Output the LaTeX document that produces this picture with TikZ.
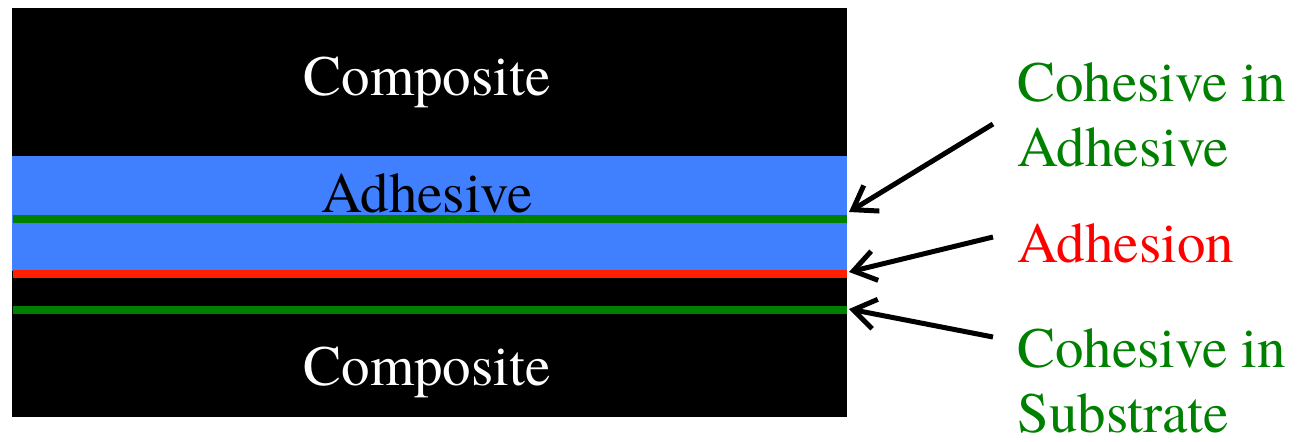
\documentclass[tikz,border=0pt]{standalone}
\usepackage{fontspec}
\setmainfont{TeX Gyre Termes}
\usetikzlibrary{arrows.meta}
\definecolor{adhblue}{RGB}{64,128,255}
\definecolor{lgreen}{RGB}{0,128,0}
\definecolor{lred}{RGB}{255,32,0}
\definecolor{tgreen}{RGB}{0,128,0}
\definecolor{tred}{RGB}{255,0,0}
\tikzset{
  lbl/.style={inner sep=0pt, font=\fontsize{28.5}{32.5}\selectfont},
  callout/.style={line width=2.5pt, -{Straight Barb[length=11pt,width=15pt]}},
  iface/.style={line width=4pt}
}
\begin{document}
\begin{tikzpicture}[x=0.5pt,y=-0.5pt]
\useasboundingbox (0,0) rectangle (1297,441);
% layers
\fill[black] (12,8) rectangle (847,417);
\fill[adhblue] (12,156) rectangle (847,271);
% layer texts
\node[lbl, text=white, anchor=base] (comp1) at (427,95) {Composite};
\node[lbl, text=black, anchor=base] (adh) at (427,212) {Adhesive};
\node[lbl, text=white, anchor=base] (comp2) at (427,385) {Composite};
% interface lines
\coordinate (g1l) at (13,219); \coordinate (g1r) at (847,219);
\coordinate (rl) at (13,274);  \coordinate (rr) at (847,274);
\coordinate (g2l) at (13,310); \coordinate (g2r) at (847,310);
\draw[iface, lgreen] (g1l) -- (g1r);
\draw[iface, lred] (rl) -- (rr);
\draw[iface, lgreen] (g2l) -- (g2r);
% labels
\node[lbl, text=tgreen, anchor=north west, align=left] (l1) at (1017,62) {Cohesive in\\Adhesive};
\node[lbl, text=tred, anchor=base west] (l2) at (1017,262) {Adhesion};
\node[lbl, text=tgreen, anchor=north west, align=left] (l3) at (1017,328) {Cohesive in\\Substrate};
% arrows
\coordinate (a1) at (993,124); \coordinate (h1) at (849,212);
\coordinate (a2) at (993,237); \coordinate (h2) at (849,272);
\coordinate (a3) at (993,337); \coordinate (h3) at (849,309);
\draw[callout] (a1) -- (h1);
\draw[callout] (a2) -- (h2);
\draw[callout] (a3) -- (h3);
\end{tikzpicture}
\end{document}
